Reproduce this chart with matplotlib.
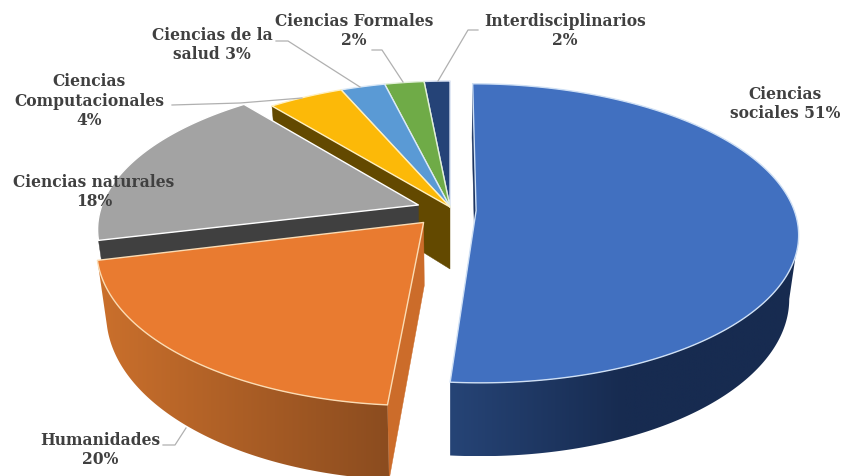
import numpy as np
import matplotlib
matplotlib.use("Agg")
import matplotlib.pyplot as plt
from matplotlib.patches import Polygon
from matplotlib.colors import to_rgb

# ---- data (percent, clockwise from 12 o'clock) ----
categories = ["Ciencias sociales", "Humanidades", "Ciencias naturales",
              "Ciencias Computacionales", "Ciencias de la salud",
              "Ciencias Formales", "Interdisciplinarios"]
shares = [51.3, 19.9, 18.0, 4.4, 2.6, 2.3, 1.5]
label_text = ["Ciencias\nsociales 51%", "Humanidades\n20%", "Ciencias naturales\n18%",
              "Ciencias\nComputacionales\n4%", "Ciencias de la\nsalud 3%",
              "Ciencias Formales\n2%", "Interdisciplinarios\n2%"]

# ---- style ----
top_colors = ["#4170c0", "#e97b30", "#a3a3a3", "#fcb908", "#5a9ad5", "#6fab47", "#254377"]
rim_colors = ["#cfe0f5", "#fbdcb4", "#ffffff", "#fff0c0", "#dbe9f7", "#e2f0d9", "#d5def0"]
radial_colors = ["#1c3461", "#cc6c2a", "#404040", "#634900", "#2f5f8f", "#44692a", "#1a2f55"]
explode = [(0.082, -0.025), (-0.082, -0.105), (-0.100, 0.014),
           (0, 0), (0, 0), (0, 0), (0, 0)]
depth_scale = [1.0, 1.03, 1.0, 1.0, 1.0, 1.0, 1.0]
# wall gradients: (colour at left, colour at right, fraction of the width where the ramp ends)
wall_ramps = {0: ("#264476", "#172b50", 0.5), 1: ("#cb702c", "#8b4c1f", 1.0)}
label_xy = [(785, 104), (100, 450), (94, 192), (89, 101), (212, 45), (354, 31), (565, 31)]
leaders = [None,
           [(163, 445), (175, 445), (186, 428)],
           None,
           [(172, 105), (240, 103), (302, 98)],
           [(276, 41), (288, 41), (360, 87)],
           [(372, 50), (382, 50), (403, 82)],
           [(478, 30), (468, 30), (438, 81)]]
CX, CY, A, B, K, H, TAPER = 450, 207, 317, 145, 0.151, 62, 0.027

fig = plt.figure(figsize=(8.41, 4.76), dpi=100, facecolor="white")
ax = fig.add_axes([0, 0, 1, 1])
ax.axis("off")


def project(gx, gy, z=0.0):
    w = 1 + K * gy
    return CX + A * gx / w * (1 - TAPER * z), CY - B * gy / w + H * z / w


def rim(i, t, z=0.0, r=1.0):
    dx, dy = explode[i]
    return project(dx + r * np.sin(t), dy + r * depth_scale[i] * np.cos(t), z)


edges = np.radians(np.concatenate([[0], np.cumsum(shares)]) * 3.6)


def radial_wall(i, t, zo):
    a0, a1 = rim(i, t, 0, 0), rim(i, t, 0, 1)
    b1, b0 = rim(i, t, 1, 1), rim(i, t, 1, 0)
    xs, ys = zip(a0, a1, b1, b0)
    ax.fill(xs, ys, color=radial_colors[i], lw=0.3, zorder=zo)


def outer_wall(i, zo):
    ts = np.linspace(edges[i], edges[i + 1], 300)
    top = np.array([rim(i, t) for t in ts])
    # only the part of the arc facing the viewer
    start = int(np.argmax(top[:, 0])) if i == 0 else 0
    top = top[start:]
    bot = np.array([rim(i, t, 1) for t in ts[start:]])
    outline = np.vstack([top, bot[::-1]])
    xmin, xmax = outline[:, 0].min(), outline[:, 0].max()
    left, right, stop = wall_ramps[i]
    f = np.clip(np.linspace(0, 1, 512) / stop, 0, 1)[None, :, None]
    grad = np.array(to_rgb(left))[None, None, :] * (1 - f) + np.array(to_rgb(right))[None, None, :] * f
    im = ax.imshow(grad, extent=(xmin, xmax, outline[:, 1].max(), outline[:, 1].min()),
                   aspect="auto", zorder=zo, interpolation="bilinear")
    clip = Polygon(outline, closed=True, transform=ax.transData, fc="none", ec="none")
    ax.add_patch(clip)
    im.set_clip_path(clip)


def top_face(i, zo):
    ts = np.linspace(edges[i], edges[i + 1], 200)
    arc = [rim(i, t) for t in ts]
    pts = [rim(i, 0, 0, 0)] + arc
    xs, ys = zip(*pts)
    ax.fill(xs, ys, facecolor=top_colors[i], edgecolor=rim_colors[i], lw=1.0,
            joinstyle="round", zorder=zo)


# back to front: small slices, gray, orange, blue
radial_wall(3, edges[3], 1)
for i in [6, 5, 4, 3]:
    top_face(i, 2)
radial_wall(2, edges[2], 3)
top_face(2, 4)
radial_wall(1, edges[1], 5)
outer_wall(1, 6)
top_face(1, 7)
outer_wall(0, 6)
radial_wall(0, edges[0], 5.5)
top_face(0, 7)

for pts in leaders:
    if pts:
        xs, ys = zip(*pts)
        ax.plot(xs, ys, color="#b0b0b0", lw=0.9, zorder=8)

for txt, (x, y) in zip(label_text, label_xy):
    ax.text(x, y, txt, ha="center", va="center", family="DejaVu Serif",
            fontweight="bold", fontsize=11.2, color="#404040", linespacing=1.22, zorder=9)

ax.set_xlim(0, 841)
ax.set_ylim(476, 0)
fig.savefig("out.png", dpi=100)
